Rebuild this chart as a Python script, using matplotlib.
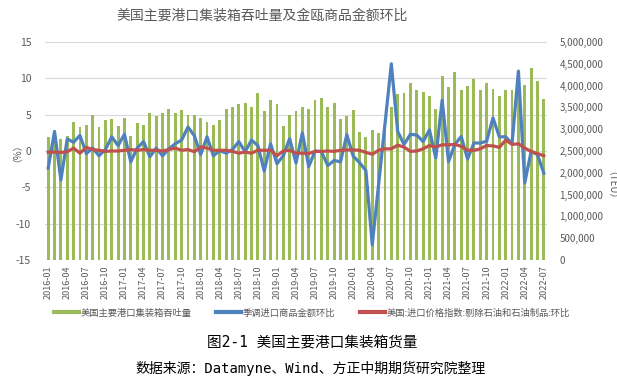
import matplotlib
matplotlib.use("Agg")
import matplotlib.pyplot as plt
from matplotlib.lines import Line2D
import numpy as np

plt.rcParams['font.family'] = ['Noto Sans CJK SC', 'DejaVu Sans']
plt.rcParams['axes.unicode_minus'] = False

# months 2016-01 .. 2022-07
months = ["%d-%02d" % (2016 + i // 12, i % 12 + 1) for i in range(79)]

# container throughput (TEU), right axis
teu = [2815000, 2700000, 2767000, 2845000, 3175000, 3045000, 3107000, 3330000, 3060000, 3215000,
       3230000, 3083000, 3267000, 2850000, 3145000, 3107000, 3375000, 3298000, 3375000, 3467000,
       3383000, 3437000, 3337000, 3337000, 3267000, 3175000, 3100000, 3215000, 3452000, 3498000,
       3567000, 3590000, 3507000, 3828000, 3407000, 3667000, 3567000, 3077000, 3322000, 3407000,
       3510000, 3470000, 3666000, 3710000, 3510000, 3610000, 3240000, 3310000, 3430000, 2940000,
       2810000, 2980000, 2920000, 3060000, 3520000, 3800000, 3820000, 4060000, 3890000, 3850000,
       3770000, 3470000, 4210000, 3960000, 4320000, 3910000, 3980000, 4140000, 3910000, 4070000,
       3930000, 3770000, 3910000, 3900000, 3900000, 4020000, 4410000, 4110000, 3700000]

# seasonally adjusted import value, m/m (%)
imports_mom = [-2.35, 2.7, -4.0, 1.65, 1.2, 2.15, -0.35, 0.4, -0.65, 0.2,
               1.95, 0.75, 2.3, -1.5, 0.4, 1.3, -0.8, 0.4, -0.65, 0.3,
               1.0, 1.5, 3.3, 2.1, -0.5, 1.95, -0.65, 0.05, -0.3, 0.2,
               1.3, -0.1, 1.5, 0.75, -2.75, 1.0, -1.75, -0.65, 1.7, -1.65,
               2.5, -2.15, 0.0, -0.1, -2.0, -1.3, -1.5, 2.25, -0.7, -1.6,
               -2.7, -12.9, -4.6, 3.7, 12.0, 2.7, 0.9, 2.3, 2.2, 1.3,
               2.9, -0.95, 7.0, -1.45, 0.9, 2.0, -1.1, 1.1, 1.1, 1.35,
               4.55, 1.95, 1.95, 1.0, 11.0, -4.4, -0.05, -0.5, -3.05]

# import price index ex petroleum, m/m (%)
price_mom = [-0.15, -0.15, -0.2, -0.1, 0.4, -0.3, 0.5, 0.2, 0.1, -0.05,
             0.0, 0.0, 0.1, 0.2, 0.1, 0.2, 0.1, 0.1, 0.0, 0.2,
             0.4, 0.1, 0.2, -0.1, 0.55, 0.4, 0.1, 0.1, 0.1, -0.05,
             -0.3, -0.15, -0.3, 0.1, 0.1, 0.1, -0.65, 0.0, 0.1, -0.3,
             -0.3, -0.35, -0.05, -0.05, 0.0, -0.05, 0.1, 0.15, 0.15, 0.1,
             -0.2, -0.45, 0.1, 0.3, 0.3, 0.8, 0.55, -0.05, 0.0, 0.3,
             0.75, 0.55, 0.85, 0.85, 0.9, 0.65, 0.1, 0.1, 0.3, 0.75,
             0.7, 0.5, 1.5, 0.9, 1.0, 0.4, -0.05, -0.35, -0.65]

labels = ["美国主要港口集装箱吞吐量", "季调进口商品金额环比", "美国:进口价格指数:剔除石油和石油制品:环比"]
green, blue, red = "#9BBB59", "#4F81BD", "#C0504D"
gray = "#595959"

fig = plt.figure(figsize=(6.17, 3.81), dpi=100)
ax = fig.add_axes([45/617, 1-260/381, 502/617, 218/381])
ax2 = ax.twinx()
x = np.arange(len(months))

# bars on the right (TEU) axis
for k in range(7):
    ax.axhline(k * 5e6 / 6, color="#D9D9D9", lw=0.8, zorder=0)
ax.bar(x, teu, width=0.45, color=green, zorder=2)
ax.set_ylim(0, 5e6)
ax.set_yticks(np.arange(0, 5000001, 500000))
ax.set_yticklabels(["{:,}".format(v) for v in range(0, 5000001, 500000)])
ax.yaxis.tick_right()
ax.tick_params(axis='y', length=0, pad=9, labelsize=7, labelcolor=gray)
ax.set_xlim(-0.5, len(months) - 0.5)
ax.set_xticks(x[::3])
ax.set_xticklabels(months[::3], rotation=90)
ax.tick_params(axis='x', length=0, pad=4, labelsize=6.5, labelcolor=gray)
for s in ax.spines.values():
    s.set_visible(False)

# lines on the left (%) axis
ax2.plot(x, imports_mom, color=blue, lw=2.3, zorder=3)
ax2.plot(x, price_mom, color=red, lw=2.3, zorder=4)
ax2.set_ylim(-15, 15)
ax2.set_yticks(range(-15, 16, 5))
ax2.yaxis.tick_left()
ax2.tick_params(axis='y', length=0, pad=10, labelsize=7.5, labelcolor=gray)
for s in ax2.spines.values():
    s.set_visible(False)

fig.text(12/617, 1-148/381, "（%）", rotation=90, ha='center', va='center', fontsize=7, color=gray)
fig.text(606/617, 1-190/381, "（TEU）", rotation=270, ha='center', va='center', fontsize=7, color=gray)

fig.text(262/617, 1-16/381, "美国主要港口集装箱吞吐量及金瓯商品金额环比", ha='center', va='center',
         fontsize=10, color=gray, fontweight='light')

handles = [Line2D([], [], color=c, lw=3) for c in (green, blue, red)]
fig.legend(handles, labels, loc='center', bbox_to_anchor=(312/617, 1-313/381), ncol=3, frameon=False,
           fontsize=6.7, handlelength=2.7, handletextpad=0.2, columnspacing=2.6, labelcolor=gray)

mono = ['DejaVu Sans Mono', 'Noto Sans CJK SC']
fig.text(312/617, 1-342/381, "图2-1 美国主要港口集装箱货量", ha='center', va='center',
         fontsize=10.5, family=mono, color="black", fontweight='light')
fig.text(311/617, 1-368/381, "数据来源：Datamyne、Wind、方正中期期货研究院整理", ha='center', va='center',
         fontsize=10, family=mono, color="black", fontweight='light')

fig.savefig("out.png", dpi=100)
